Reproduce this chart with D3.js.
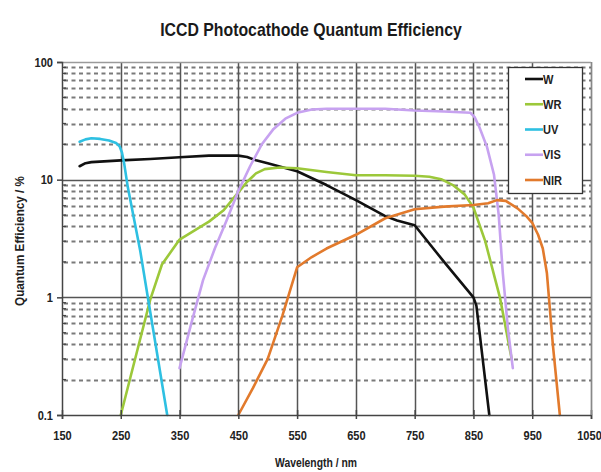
<!DOCTYPE html>
<html>
<head>
<meta charset="utf-8">
<script src="https://cdn.jsdelivr.net/npm/d3@7"></script>
<style>
  html, body { margin: 0; padding: 0; background: #fff; }
  svg { display: block; }
  .narrow { font-family: "Liberation Sans", Arial, "DejaVu Sans", sans-serif; font-weight: bold; }
</style>
</head>
<body>
<svg id="chart" width="601" height="472"></svg>
<script>
// Quantum efficiency (%) versus wavelength (nm) for each photocathode type
const seriesNames = ["W", "WR", "UV", "VIS", "NIR"];
const seriesColors = ["#111111", "#9cc83a", "#2ec0e2", "#c7a2f0", "#e27a2c"];

const wWavelength = [180, 190, 200, 250, 300, 350, 400, 450, 465, 480, 500, 550, 600, 650, 700, 720, 750, 800, 850, 855, 877];
const wQE =         [13, 13.8, 14.1, 14.6, 15, 15.5, 16, 16, 15.6, 14.6, 13.8, 11.8, 9, 6.7, 4.9, 4.5, 4.1, 2.0, 1.0, 0.85, 0.1];

const wrWavelength = [250, 300, 320, 350, 400, 425, 450, 465, 480, 495, 520, 550, 600, 650, 700, 750, 775, 795, 815, 835, 850, 870, 895, 915];
const wrQE =         [0.1, 0.95, 1.9, 3.1, 4.4, 5.5, 7.8, 9.6, 11.3, 12.3, 12.7, 12.5, 11.6, 10.9, 10.9, 10.8, 10.6, 10.1, 9, 7.5, 5.8, 3, 1.0, 0.3];

const uvWavelength = [180, 190, 200, 215, 230, 242, 248, 252, 256, 262, 283, 296, 329];
const uvQE =         [21, 22, 22.5, 22.2, 21.5, 20.5, 19.2, 17, 13.5, 8.6, 2.5, 1.0, 0.1];

const visWavelength = [350, 370, 390, 410, 430, 450, 470, 490, 510, 530, 550, 575, 600, 650, 700, 750, 800, 845, 852, 860, 873, 885, 893, 900, 909, 917];
const visQE =         [0.25, 0.6, 1.4, 2.6, 4.5, 8, 13, 20, 27, 33, 37, 39.5, 40, 40, 40, 38.7, 38, 37, 34, 28, 19, 11, 5, 1.6, 0.52, 0.25];

const nirWavelength = [450, 475, 500, 525, 550, 575, 600, 650, 700, 750, 800, 850, 875, 890, 905, 925, 940, 950, 960, 968, 975, 985, 997];
const nirQE =         [0.1, 0.17, 0.3, 0.7, 1.8, 2.2, 2.6, 3.4, 4.7, 5.6, 5.9, 6.1, 6.3, 6.7, 6.6, 5.7, 4.9, 4.3, 3.4, 2.6, 1.6, 0.4, 0.1];

const xTicks = [150, 250, 350, 450, 550, 650, 750, 850, 950, 1050];
const yTicks = [0.1, 1, 10, 100];
const yTickLabels = ["0.1", "1", "10", "100"];

const titleText = "ICCD Photocathode Quantum Efficiency";
const xTitle = "Wavelength / nm";
const yTitle = "Quantum Efficiency / %";

const seriesData = [
  [wWavelength, wQE],
  [wrWavelength, wrQE],
  [uvWavelength, uvQE],
  [visWavelength, visQE],
  [nirWavelength, nirQE]
].map(([xs, ys], i) => ({
  name: seriesNames[i],
  color: seriesColors[i],
  points: xs.map((x, j) => ({ x, y: ys[j] }))
}));

const plot = { left: 62, right: 591, top: 62, bottom: 415 };
const squeeze = 0.85; // horizontal compression giving a narrow typeface look

const x = d3.scaleLinear().domain([150, 1050]).range([plot.left, plot.right]);
const y = d3.scaleLog().domain([0.1, 100]).range([plot.bottom, plot.top]);

const svg = d3.select("#chart");

// Minor (2..9 per decade) values for the dashed grid and inner ticks
const minorVals = [];
[0.1, 1, 10].forEach(d => { for (let k = 2; k <= 9; k++) minorVals.push(+(d * k).toPrecision(3)); });

const grid = svg.append("g");

grid.selectAll("line.minor")
  .data(minorVals)
  .join("line")
  .attr("class", "minor")
  .attr("x1", plot.left + 2).attr("x2", plot.right)
  .attr("y1", d => Math.round(y(d)) + 0.5).attr("y2", d => Math.round(y(d)) + 0.5)
  .attr("stroke", "#7a7a7a")
  .attr("stroke-width", 2)
  .attr("stroke-dasharray", "4,3.5");

grid.selectAll("line.vmajor")
  .data(xTicks.slice(1))
  .join("line")
  .attr("class", "vmajor")
  .attr("x1", d => Math.round(x(d)) + 0.5).attr("x2", d => Math.round(x(d)) + 0.5)
  .attr("y1", plot.top).attr("y2", plot.bottom)
  .attr("stroke", "#555")
  .attr("stroke-width", 1.5);

grid.selectAll("line.hmajor")
  .data(yTicks.slice(1))
  .join("line")
  .attr("class", "hmajor")
  .attr("x1", plot.left).attr("x2", plot.right)
  .attr("y1", d => Math.round(y(d)) + 0.5).attr("y2", d => Math.round(y(d)) + 0.5)
  .attr("stroke", d => d === 100 ? "#9a9a9a" : "#555")
  .attr("stroke-width", 1.5);

// Series lines
const line = d3.line()
  .x(d => x(d.x))
  .y(d => y(d.y))
  .curve(d3.curveLinear);

svg.append("g")
  .selectAll("path")
  .data(seriesData)
  .join("path")
  .attr("d", d => line(d.points))
  .attr("fill", "none")
  .attr("stroke", d => d.color)
  .attr("stroke-width", 2.6)
  .attr("stroke-linejoin", "round")
  .attr("stroke-linecap", "round");

// Axes
const xAxis = d3.axisBottom(x).tickValues(xTicks).tickSize(4).tickFormat(d3.format("d"));
const gx = svg.append("g")
  .attr("transform", `translate(0,${plot.bottom})`)
  .call(xAxis);
gx.select(".domain").attr("stroke", "#444").attr("stroke-width", 1.5);
gx.selectAll(".tick line").attr("stroke", "#444").attr("stroke-width", 1.5).attr("y1", -5).attr("y2", 4);
gx.selectAll(".tick text")
  .attr("class", "narrow")
  .attr("font-size", 13)
  .attr("fill", "#222")
  .attr("x", 0).attr("y", 0)
  .attr("dy", "0.71em")
  .attr("transform", d => `translate(${d === 1050 ? -2 : 0},16) scale(${squeeze},1)`);

const yAxis = d3.axisLeft(y).tickValues(yTicks).tickSize(5).tickFormat((d, i) => yTickLabels[i]);
const gy = svg.append("g")
  .attr("transform", `translate(${plot.left},0)`)
  .call(yAxis);
gy.select(".domain").attr("stroke", "#444").attr("stroke-width", 1.5);
gy.selectAll(".tick line").attr("stroke", "#444").attr("stroke-width", 1.5);
gy.selectAll(".tick text")
  .attr("class", "narrow")
  .attr("font-size", 13)
  .attr("fill", "#222")
  .attr("x", 0)
  .attr("transform", `translate(-9,0) scale(${squeeze},1)`);

// Minor ticks along the inside of the y axis
gy.selectAll("line.minortick")
  .data(minorVals)
  .join("line")
  .attr("class", "minortick")
  .attr("x1", 0).attr("x2", 4)
  .attr("y1", d => y(d)).attr("y2", d => y(d))
  .attr("stroke", "#444")
  .attr("stroke-width", 1.3);

// Right border
svg.append("line")
  .attr("x1", plot.right + 0.5).attr("x2", plot.right + 0.5)
  .attr("y1", plot.top).attr("y2", plot.bottom)
  .attr("stroke", "#888").attr("stroke-width", 1);

// Titles
svg.append("text")
  .attr("class", "narrow")
  .attr("transform", "translate(311,36) scale(0.88,1)")
  .attr("text-anchor", "middle")
  .attr("font-size", 18)
  .attr("fill", "#1a1a1a")
  .text(titleText);

svg.append("text")
  .attr("class", "narrow")
  .attr("transform", "translate(316,467) scale(0.83,1)")
  .attr("text-anchor", "middle")
  .attr("font-size", 12.5)
  .attr("fill", "#222")
  .text(xTitle);

svg.append("text")
  .attr("class", "narrow")
  .attr("transform", "translate(24,241) rotate(-90) scale(0.9,1)")
  .attr("text-anchor", "middle")
  .attr("font-size", 13)
  .attr("fill", "#222")
  .text(yTitle);

// Legend
const legend = svg.append("g");
legend.append("rect")
  .attr("x", 508.5).attr("y", 67.5)
  .attr("width", 74).attr("height", 126)
  .attr("fill", "#fff")
  .attr("stroke", "#333")
  .attr("stroke-width", 1.3);

const rowY = d3.scalePoint().domain(seriesNames).range([79, 180]);
const rows = legend.selectAll("g.row")
  .data(seriesData)
  .join("g")
  .attr("class", "row")
  .attr("transform", d => `translate(0,${rowY(d.name)})`);
rows.append("line")
  .attr("x1", 525).attr("x2", 543)
  .attr("stroke", d => d.color)
  .attr("stroke-width", 2.6);
rows.append("text")
  .attr("class", "narrow")
  .attr("x", 0).attr("dy", "0.35em")
  .attr("transform", `translate(543,0) scale(${squeeze},1)`)
  .attr("font-size", 13)
  .attr("fill", "#222")
  .text(d => d.name);
</script>
</body>
</html>
